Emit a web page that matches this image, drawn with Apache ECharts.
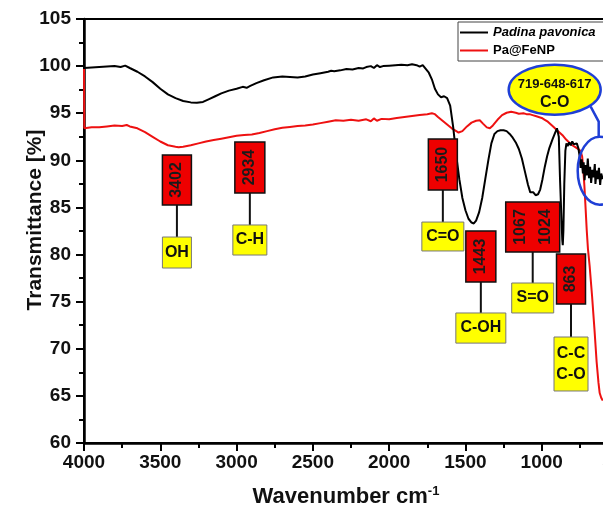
<!DOCTYPE html>
<html>
<head>
<meta charset="utf-8">
<script src="https://cdn.jsdelivr.net/npm/echarts@6/dist/echarts.min.js"></script>
<style>
  html, body { margin: 0; padding: 0; background: #fff; }
  #chart { width: 603px; height: 515px; }
</style>
</head>
<body>
<div id="chart"></div>
<script>
// FTIR spectra: wavenumber (cm-1) vs transmittance (%)
const seaweedWavenumber = [
  4000, 3950, 3900, 3850, 3800, 3760, 3730, 3700, 3650, 3600, 3550, 3500, 3450, 3400, 3350, 3300,
  3260, 3220, 3180, 3140, 3100, 3050, 3000, 2960, 2934, 2910, 2870, 2820, 2760, 2700, 2650, 2600,
  2550, 2500, 2450, 2400, 2380, 2360, 2320, 2280, 2240, 2200, 2170, 2150, 2120, 2100, 2080, 2060,
  2040, 2000, 1960, 1920, 1880, 1850, 1820, 1800, 1780, 1760, 1740, 1720, 1700, 1680, 1660, 1640,
  1620, 1600, 1580, 1560, 1540, 1520, 1500, 1480, 1460, 1445, 1430, 1410, 1390, 1370, 1350, 1330,
  1310, 1290, 1270, 1250, 1230, 1210, 1190, 1170, 1150, 1130, 1110, 1090, 1075, 1067, 1055, 1040,
  1024, 1010, 995, 980, 965, 950, 930, 915, 900, 895, 888, 880, 870, 865, 862, 858,
  852, 845, 838, 830, 820, 810, 800, 790, 780, 770, 760, 752, 745, 738, 730, 725,
  719, 712, 705, 698, 690, 683, 676, 668, 660, 652, 648, 640, 632, 625, 617, 610, 600
];
const seaweedTransmittance = [
  99.8, 99.85, 99.9, 99.95, 100.0, 99.9, 100.05, 99.8, 99.4, 98.9, 98.3, 97.6, 97.0, 96.6, 96.3, 96.15,
  96.1, 96.2, 96.5, 96.8, 97.1, 97.4, 97.6, 97.8, 97.7, 97.9, 98.2, 98.5, 98.8, 98.9, 98.85, 98.8,
  98.9, 99.1, 99.25, 99.4, 99.5, 99.45, 99.55, 99.7, 99.65, 99.8, 99.75, 99.9, 100.0, 99.8, 100.1, 99.9,
  100.0, 100.05, 100.1, 100.15, 100.1, 100.2, 100.1, 99.95, 100.1, 99.7, 99.3, 98.6, 97.6, 97.0, 96.7, 96.8,
  96.6, 95.8, 93.5, 90.5, 88.0, 86.0, 84.7, 83.8, 83.4, 83.3, 83.6, 84.5, 86.0, 88.0, 90.0, 91.8,
  92.8, 93.1, 93.2, 93.2, 93.1, 92.8, 92.4, 91.9, 91.2, 90.2, 88.8, 87.4, 86.6, 86.4, 86.6, 86.3,
  86.4, 86.9, 88.0, 89.3, 90.4, 91.3, 92.2, 92.8, 93.4, 93.6, 92.5, 88.0, 83.5, 81.5, 81.0, 82.5,
  87.5, 91.0, 91.8, 91.5, 91.9, 91.6, 92.0, 91.7, 91.9, 91.8, 91.3, 90.5, 89.2, 90.1, 88.6, 89.8,
  87.9, 89.5, 88.4, 90.2, 88.1, 89.3, 87.6, 89.0, 88.2, 89.6, 87.5, 88.9, 88.0, 89.2, 87.4, 88.6, 88.0
];

const nanoWavenumber = [
  4000, 3998, 3950, 3900, 3850, 3800, 3750, 3720, 3700, 3650, 3600, 3550, 3500, 3450, 3400, 3380,
  3350, 3300, 3250, 3200, 3150, 3100, 3050, 3000, 2950, 2900, 2850, 2800, 2750, 2700, 2650, 2600,
  2550, 2500, 2450, 2400, 2350, 2300, 2250, 2200, 2150, 2120, 2100, 2080, 2050, 2000, 1950, 1900,
  1850, 1800, 1750, 1720, 1700, 1680, 1650, 1620, 1590, 1560, 1545, 1520, 1490, 1460, 1430, 1406,
  1385, 1360, 1340, 1320, 1290, 1260, 1230, 1200, 1170, 1150, 1120, 1100, 1080, 1060, 1040, 1020,
  1000, 980, 960, 940, 920, 900, 880, 860, 840, 820, 800, 780, 760, 745, 735, 728,
  720, 712, 705, 697, 686, 670, 654, 640, 628, 620, 610, 600
];
const nanoTransmittance = [
  99.7, 93.4, 93.5, 93.5, 93.6, 93.7, 93.65, 93.75, 93.6, 93.4, 93.0, 92.5, 92.0, 91.6, 91.45, 91.4,
  91.45, 91.6, 91.8, 92.0, 92.15, 92.3, 92.45, 92.6, 92.7, 92.75, 92.9, 93.1, 93.3, 93.45, 93.55, 93.65,
  93.7, 93.8, 93.95, 94.1, 94.25, 94.2, 94.3, 94.2, 94.35, 94.15, 94.45, 94.2, 94.4, 94.35, 94.5, 94.6,
  94.7, 94.8, 94.9, 95.0, 94.9, 94.6, 94.2, 93.8, 93.4, 93.1, 92.95, 93.1, 93.6, 94.0, 94.2, 94.25,
  93.9, 93.5, 93.4, 93.7, 94.3, 94.8, 95.05, 95.15, 95.05, 94.95, 95.0, 94.9, 94.9, 94.8, 94.7, 94.6,
  94.5, 94.3, 94.1, 93.8, 93.5, 93.2, 92.9, 92.6, 92.2, 91.9, 91.6, 91.4, 91.2, 91.0, 90.4, 89.2,
  87.2, 84.8, 82.6, 80.6, 78.8, 75.6, 72.0, 68.6, 66.4, 65.3, 64.8, 64.5
];

const seriesNames = ['Padina pavonica', 'Pa@FeNP'];

// band assignments: wavenumber labels and functional groups
const bandNumbers = [['3402'], ['2934'], ['1650'], ['1443'], ['1067', '1024'], ['863']];
const bandGroups = ['OH', 'C-H', 'C=O', 'C-OH', 'S=O', 'C-C\nC-O'];
const lowBandNumbers = '719-648-617';
const lowBandGroup = 'C-O';

// tag placement in axis units (anchor wavenumber, top/bottom of each box) and pixel widths
const tagLayout = [
  { wn: 3391, redTop: 90.57, redBot: 85.26, yelTop: 81.86, yelBot: 78.57, redW: 29, yelW: 29 },
  { wn: 2913, redTop: 91.95, redBot: 86.53, yelTop: 83.14, yelBot: 79.95, redW: 30, yelW: 34 },
  { wn: 1648, redTop: 92.26, redBot: 86.85, yelTop: 83.45, yelBot: 80.38, redW: 29, yelW: 42 },
  { wn: 1399, redTop: 82.50, redBot: 77.09, yelTop: 73.80, yelBot: 70.60, redW: 30, yelW: 50 },
  { wn: 1059, redTop: 85.58, redBot: 80.27, yelTop: 76.98, yelBot: 73.80, redW: 54, yelW: 42 },
  { wn: 808,  redTop: 80.06, redBot: 74.75, yelTop: 71.25, yelBot: 65.52, redW: 29, yelW: 34 }
];
const calloutLayout = { wn: 915, t: 97.5, rx: 46, ry: 25, ringWn: 620, ringT: 88.9, ringRx: 22, ringRy: 34 };

const FONT = '"Liberation Sans", Arial, sans-serif';
const zip = (xs, ys) => xs.map((x, i) => [x, ys[i]]);

const chart = echarts.init(document.getElementById('chart'), null, { renderer: 'canvas' });

chart.setOption({
  animation: false,
  backgroundColor: '#ffffff',
  grid: {
    left: 84, top: 19, bottom: 72, right: -15,
    containLabel: false, outerBoundsMode: 'none',
    show: true, borderColor: '#000', borderWidth: 2, backgroundColor: 'transparent'
  },
  legend: {
    orient: 'vertical',
    left: 458, top: 22,
    itemWidth: 28, itemHeight: 14, itemGap: 5,
    padding: [4, 20, 4, 2],
    icon: 'path://M0,0H28V2H0Z',
    borderColor: '#444', borderWidth: 1, backgroundColor: '#fff',
    data: seriesNames,
    formatter: name => name === seriesNames[0] ? '{it|' + name + '}' : name,
    textStyle: {
      fontFamily: FONT, fontWeight: 'bold', fontSize: 13, color: '#000',
      rich: { it: { fontFamily: FONT, fontWeight: 'bold', fontStyle: 'italic', fontSize: 13, color: '#000' } }
    }
  },
  xAxis: {
    type: 'value', inverse: true, min: 500, max: 4000, interval: 500,
    axisLine: { show: true, lineStyle: { color: '#000', width: 2.5 } },
    axisTick: { show: true, inside: false, length: 8, lineStyle: { color: '#000', width: 2 } },
    minorTick: { show: true, splitNumber: 2, length: 5, lineStyle: { color: '#000', width: 2 } },
    splitLine: { show: false },
    axisLabel: {
      margin: 10, fontFamily: FONT, fontWeight: 'bold', fontSize: 19, color: '#111',
      formatter: v => String(v)
    }
  },
  yAxis: {
    type: 'value', min: 60, max: 105, interval: 5,
    axisLine: { show: true, lineStyle: { color: '#000', width: 2.5 } },
    axisTick: { show: true, inside: false, length: 8, lineStyle: { color: '#000', width: 2 } },
    minorTick: { show: true, splitNumber: 2, length: 5, lineStyle: { color: '#000', width: 2 } },
    splitLine: { show: false },
    axisLabel: {
      margin: 13, fontFamily: FONT, fontWeight: 'bold', fontSize: 19, color: '#111',
      formatter: v => String(v)
    }
  },
  series: [
    {
      name: seriesNames[0], type: 'line', symbol: 'none', z: 3,
      lineStyle: { color: '#000', width: 2 }, itemStyle: { color: '#000' },
      data: zip(seaweedWavenumber, seaweedTransmittance)
    },
    {
      name: seriesNames[1], type: 'line', symbol: 'none', z: 2,
      lineStyle: { color: '#ee1111', width: 2 }, itemStyle: { color: '#ee1111' },
      data: zip(nanoWavenumber, nanoTransmittance)
    }
  ]
});

// annotation boxes anchored to the axes
function px(wn, t) {
  return chart.convertToPixel({ xAxisIndex: 0, yAxisIndex: 0 }, [wn, t]);
}

const els = [];
tagLayout.forEach((tag, i) => {
  const [cx, redTopY] = px(tag.wn, tag.redTop);
  const redBotY = px(tag.wn, tag.redBot)[1];
  const yelTopY = px(tag.wn, tag.yelTop)[1];
  const yelBotY = px(tag.wn, tag.yelBot)[1];
  els.push({
    type: 'line', z: 10,
    shape: { x1: cx, y1: redBotY, x2: cx, y2: yelTopY },
    style: { stroke: '#111', lineWidth: 2 }
  });
  els.push({
    type: 'rect', z: 11,
    shape: { x: cx - tag.redW / 2, y: redTopY, width: tag.redW, height: redBotY - redTopY },
    style: { fill: '#ee0000', stroke: '#111', lineWidth: 1.5 }
  });
  const nums = bandNumbers[i];
  nums.forEach((n, k) => {
    const off = nums.length === 1 ? 0 : (k - (nums.length - 1) / 2) * 25;
    els.push({
      type: 'text', z: 12,
      x: cx + off, y: (redTopY + redBotY) / 2, rotation: Math.PI / 2,
      style: {
        text: n, fill: '#1a1a1a', align: 'center', verticalAlign: 'middle',
        fontFamily: FONT, fontWeight: 'bold', fontSize: 16
      }
    });
  });
  els.push({
    type: 'rect', z: 11,
    shape: { x: cx - tag.yelW / 2, y: yelTopY, width: tag.yelW, height: yelBotY - yelTopY },
    style: { fill: '#ffff00', stroke: '#777', lineWidth: 1 }
  });
  els.push({
    type: 'text', z: 12,
    x: cx, y: (yelTopY + yelBotY) / 2,
    style: {
      text: bandGroups[i], fill: '#111', align: 'center', verticalAlign: 'middle',
      fontFamily: FONT, fontWeight: 'bold', fontSize: 16, lineHeight: 21
    }
  });
});

// yellow callout for the fingerprint bands
const [ecx, ecy] = px(calloutLayout.wn, calloutLayout.t);
const [rcx, rcy] = px(calloutLayout.ringWn, calloutLayout.ringT);
els.push({
  type: 'polyline', z: 10,
  shape: { points: [[ecx + 36, ecy + 17], [rcx - 1, ecy + 32], [rcx - 1, rcy - calloutLayout.ringRy]] },
  style: { stroke: '#1f3fd6', lineWidth: 2.5, fill: null }
});
els.push({
  type: 'ellipse', z: 11,
  shape: { cx: rcx, cy: rcy, rx: calloutLayout.ringRx, ry: calloutLayout.ringRy },
  style: { fill: 'none', stroke: '#1f3fd6', lineWidth: 2.5 }
});
els.push({
  type: 'ellipse', z: 11,
  shape: { cx: ecx, cy: ecy, rx: calloutLayout.rx, ry: calloutLayout.ry },
  style: { fill: '#ffff00', stroke: '#1f3fd6', lineWidth: 2.5 }
});
els.push({
  type: 'text', z: 12, x: ecx, y: ecy - 5,
  style: { text: lowBandNumbers, fill: '#111', align: 'center', verticalAlign: 'middle',
           fontFamily: FONT, fontWeight: 'bold', fontSize: 13 }
});
els.push({
  type: 'text', z: 12, x: ecx, y: ecy + 13,
  style: { text: lowBandGroup, fill: '#111', align: 'center', verticalAlign: 'middle',
           fontFamily: FONT, fontWeight: 'bold', fontSize: 16 }
});

// axis titles
els.push({
  type: 'text', z: 12, x: 35, y: 220, rotation: Math.PI / 2,
  style: { text: 'Transmittance [%]', fill: '#111', align: 'center', verticalAlign: 'middle',
           fontFamily: FONT, fontWeight: 'bold', fontSize: 21 }
});
els.push({
  type: 'text', z: 12, x: 346, y: 497,
  style: {
    text: 'Wavenumber cm{sup|-1}', fill: '#111', align: 'center', verticalAlign: 'middle',
    fontFamily: FONT, fontWeight: 'bold', fontSize: 22, lineHeight: 24,
    rich: { sup: { fontFamily: FONT, fontWeight: 'bold', fontSize: 13, verticalAlign: 'top', lineHeight: 24, fill: '#111' } }
  }
});

chart.setOption({ graphic: { elements: els } });
</script>
</body>
</html>
